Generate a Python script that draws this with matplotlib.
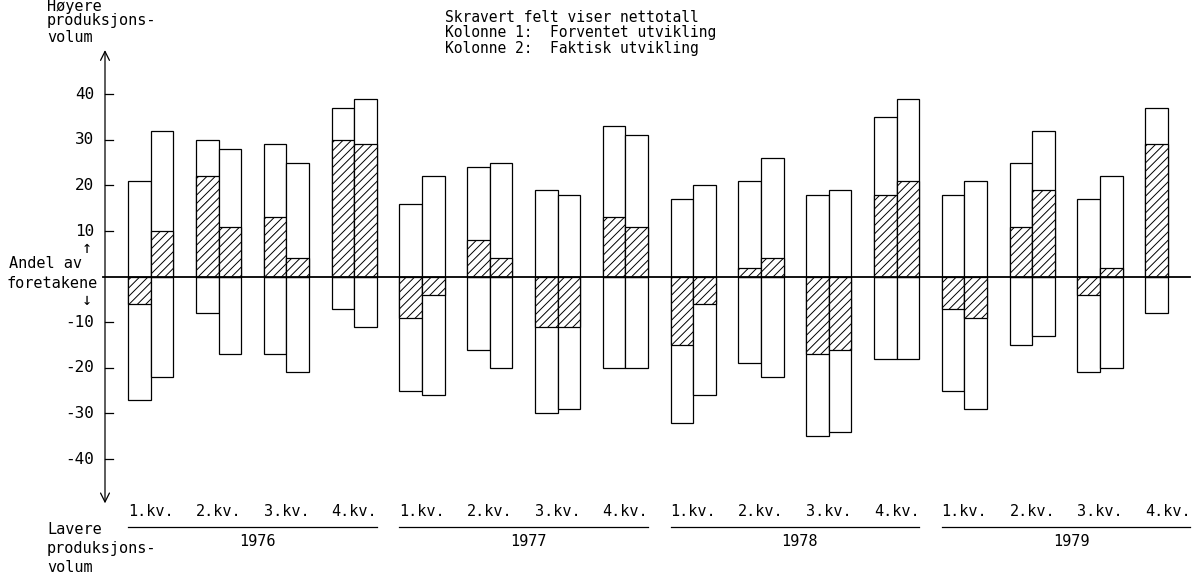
import matplotlib.pyplot as plt
import numpy as np

plt.rcParams['font.family'] = ['DejaVu Sans Mono', 'DejaVu Sans']
plt.rcParams['hatch.linewidth'] = 0.7
plt.rcParams['hatch.color'] = 'black'

# Data (share of firms, %)
quarters = ['1.kv.', '2.kv.', '3.kv.', '4.kv.'] * 4
years = ['1976', '1977', '1978', '1979']

# Kolonne 1: expected development
exp_hi = [21, 30, 29, 37, 16, 24, 19, 33, 17, 21, 18, 35, 18, 25, 17, 37]
exp_lo = [-27, -8, -17, -7, -25, -16, -30, -20, -32, -19, -35, -18, -25, -15, -21, -8]
exp_net = [-6, 22, 13, 30, -9, 8, -11, 13, -15, 2, -17, 18, -7, 11, -4, 29]

# Kolonne 2: actual development (1979 4.kv. missing)
act_hi = [32, 28, 25, 39, 22, 25, 18, 31, 20, 26, 19, 39, 21, 32, 22, np.nan]
act_lo = [-22, -17, -21, -11, -26, -20, -29, -20, -26, -22, -34, -18, -29, -13, -20, np.nan]
act_net = [10, 11, 4, 29, -4, 4, -11, 11, -6, 4, -16, 21, -9, 19, 2, np.nan]

ytick_vals = [40, 30, 20, 10, -10, -20, -30, -40]

W, H = 1202, 576
fig = plt.figure(figsize=(W / 100, H / 100), dpi=100)
ax = fig.add_axes([0, 0, 1, 1])

# pixel layout of the scan: quarter spacing and value scale
qpx, x0px = 67.8, 150.8
vpx, y0px = 4.56, 276.7
ax.set_xlim(-x0px / qpx, (W - x0px) / qpx)
ax.set_ylim(-(H - y0px) / vpx, y0px / vpx)
ax.axis('off')


def fpos(x, y):
    # figure fraction from pixel position (y from top)
    return x / W, 1 - y / H


x = np.arange(len(quarters))
w = 0.332
lw = 0.9

for off, hi, lo, net in [(-w, exp_hi, exp_lo, exp_net), (0, act_hi, act_lo, act_net)]:
    hi, lo, net = np.array(hi, float), np.array(lo, float), np.array(net, float)
    ok = ~np.isnan(hi)
    xs = x[ok] + off
    ax.bar(xs, hi[ok], width=w, align='edge', facecolor='white', edgecolor='black', lw=lw)
    ax.bar(xs, lo[ok], width=w, align='edge', facecolor='white', edgecolor='black', lw=lw)
    ax.bar(xs, net[ok], width=w, align='edge', facecolor='white', edgecolor='black',
           lw=lw, hatch='////')

# vertical axis with arrows
axis_x = (105 - x0px) / qpx
ax.annotate('', xy=(axis_x, 49.7), xytext=(axis_x, -49.7),
            arrowprops=dict(arrowstyle='<->', lw=lw, color='black',
                            shrinkA=0, shrinkB=0, mutation_scale=16))
for v in ytick_vals:
    ax.plot([axis_x, axis_x + 8 / qpx], [v, v], color='black', lw=lw)
    ax.text(axis_x - 11 / qpx, v, str(v), ha='right', va='center', fontsize=11.5)

# zero line
ax.plot([axis_x - 2 / qpx, x[-1] + w], [0, 0], color='black', lw=1.3)

# quarter and year labels
qy = (y0px - 512) / vpx
ly = (y0px - 527) / vpx
yy = (y0px - 541) / vpx
for i, q in enumerate(quarters):
    ax.text(x[i], qy, q, ha='center', va='center', fontsize=11)
for k, yr in enumerate(years):
    ax.plot([4 * k - w, 4 * k + 3 + w], [ly, ly], color='black', lw=lw)
    ax.text(4 * k + 1.5 + 5 / qpx, yy, yr, ha='center', va='center', fontsize=11)

# left side texts
for txt, ypx in [('Høyere', 6), ('produksjons-', 21), ('volum', 37)]:
    fig.text(*fpos(47, ypx), txt, ha='left', va='center', fontsize=11)
for txt, ypx in [('Lavere', 529), ('produksjons-', 549), ('volum', 567)]:
    fig.text(*fpos(47, ypx), txt, ha='left', va='center', fontsize=11)
fig.text(*fpos(9, 264), 'Andel av', ha='left', va='center', fontsize=11)
fig.text(*fpos(7, 283), 'foretakene', ha='left', va='center', fontsize=11)
fig.text(*fpos(87, 248), '↑', ha='center', va='center', fontsize=12)
fig.text(*fpos(87, 300), '↓', ha='center', va='center', fontsize=12)

# explanation
for txt, ypx in [('Skravert felt viser nettotall', 17),
                 ('Kolonne 1:  Forventet utvikling', 33),
                 ('Kolonne 2:  Faktisk utvikling', 49)]:
    fig.text(*fpos(445, ypx), txt, ha='left', va='center', fontsize=10.5)

fig.savefig('out.png', dpi=100, facecolor='white')
